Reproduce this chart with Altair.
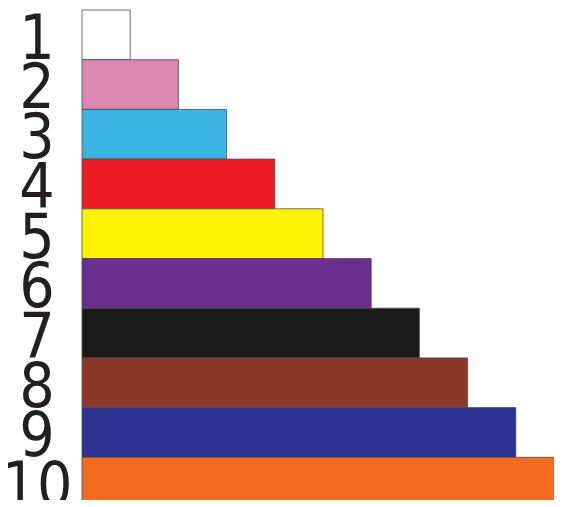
import altair as alt
import pandas as pd

labels = ["1", "2", "3", "4", "5", "6", "7", "8", "9", "10"]
lengths = [1, 2, 3, 4, 5, 6, 7, 8, 9, 10]
colors = ["#FFFFFF", "#DB87B0", "#3BB4E4", "#EC1C24", "#FFF200",
          "#6B2F90", "#1A1A1A", "#8B3A2A", "#2E3192", "#F26B21"]

df = pd.DataFrame({"label": labels, "length": lengths, "color": colors})

yscale = alt.Scale(paddingInner=0, paddingOuter=0, range=[0, 497])

bars = alt.Chart(df).mark_bar(stroke="#4d4d4d", strokeWidth=0.8).encode(
    x=alt.X("length:Q", axis=None,
            scale=alt.Scale(domain=[0, 10], nice=False, range=[0, 482])),
    y=alt.Y("label:N", sort=labels, axis=None, scale=yscale),
    color=alt.Color("color:N", scale=None, legend=None),
)

text = alt.Chart(df).mark_text(
    font="DejaVu Sans Condensed, Liberation Sans Narrow, sans-serif",
    fontSize=62, align="center", baseline="alphabetic", color="#231F20", dy=-1,
).encode(
    x=alt.value(-45),
    y=alt.Y("label:N", sort=labels, axis=None, bandPosition=1, scale=yscale),
    text="label:N",
)

chart = alt.layer(bars, text).properties(
    width=472, height=490,
    autosize=alt.AutoSizeParams(type="none"),
    padding={"left": 74, "top": 2, "right": 0, "bottom": 0},
    background="white",
).configure_view(stroke=None)

chart.save("out.html", embed_options={"renderer": "svg", "actions": False})
